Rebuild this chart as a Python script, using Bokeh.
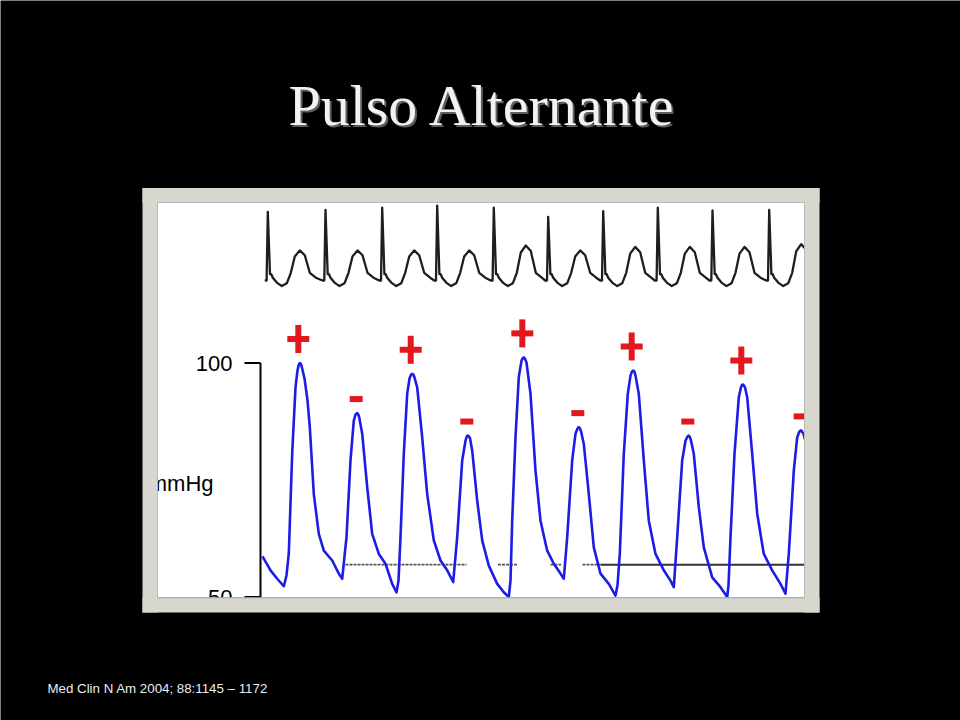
import re
from bokeh.plotting import figure
from bokeh.models import Range1d, Label
from bokeh.core.properties import value
from bokeh.embed import file_html
from bokeh.resources import INLINE

# ---------------- data ----------------
title_text = "Pulso Alternante"
source_text = "Med Clin N Am 2004; 88:1145 \u2013 1172"
y_label = "mmHg"
tick_values = [100, 50]
tick_labels = ["100", "50"]

# arterial pressure trace (time in s, pressure in mmHg)
pressure_t = [0.00, 0.08, 0.147, 0.213, 0.24, 0.263, 0.297, 0.33, 0.35, 0.362, 0.373, 0.384, 0.395, 0.42, 0.45, 0.473,
              0.513, 0.563, 0.613, 0.697, 0.763, 0.797,
              0.84, 0.88, 0.913, 0.93, 0.947, 0.96, 0.97, 0.997, 1.047, 1.097, 1.163, 1.23, 1.297, 1.34,
              1.36, 1.38, 1.413, 1.447, 1.47, 1.485, 1.497, 1.51, 1.52, 1.547, 1.597, 1.647, 1.713, 1.78, 1.847, 1.907,
              1.947, 1.997, 2.03, 2.043, 2.053, 2.065, 2.075, 2.097, 2.147, 2.197, 2.263, 2.347, 2.413, 2.463,
              2.48, 2.497, 2.53, 2.563, 2.59, 2.602, 2.613, 2.625, 2.64, 2.68, 2.73, 2.78, 2.847, 2.913, 2.98, 3.013,
              3.047, 3.097, 3.13, 3.15, 3.163, 3.175, 3.185, 3.213, 3.263, 3.313, 3.38, 3.463, 3.53,
              3.55, 3.573, 3.613, 3.653, 3.68, 3.695, 3.707, 3.72, 3.73, 3.763, 3.813, 3.863, 3.93, 4.013, 4.08, 4.113,
              4.147, 4.197, 4.23, 4.25, 4.263, 4.275, 4.285, 4.313, 4.363, 4.413, 4.497, 4.58, 4.647,
              4.66, 4.68, 4.72, 4.763, 4.785, 4.795, 4.803, 4.813, 4.825, 4.847, 4.897, 4.947, 5.013, 5.097, 5.18, 5.23,
              5.263, 5.313, 5.347, 5.37, 5.387, 5.41, 5.44]
pressure_mmhg = [58.7, 55.7, 53.9, 52.3, 54.6, 59.3, 80.7, 94.8, 98.4, 99.6, 100.0, 99.8, 99.0, 96.7, 92.0, 86.3,
                 72.0, 63.5, 59.9, 57.8, 55.0, 53.9,
                 62.8, 79.2, 87.7, 89.0, 89.3, 88.9, 88.1, 84.9, 73.5, 63.5, 59.2, 57.1, 52.8, 51.0,
                 53.5, 62.8, 80.6, 93.4, 96.7, 97.5, 97.7, 97.5, 96.9, 94.8, 84.1, 72.0, 62.1, 57.8, 55.7, 53.2,
                 62.8, 79.2, 83.4, 84.3, 84.5, 84.3, 83.9, 81.3, 70.6, 62.1, 56.7, 52.8, 51.0, 50.0,
                 53.5, 66.3, 84.1, 97.0, 100.5, 101.0, 101.2, 100.9, 100.1, 93.4, 77.0, 66.3, 59.9, 57.1, 55.0, 53.9,
                 62.8, 79.2, 84.9, 86.0, 86.3, 86.0, 85.4, 82.7, 72.0, 60.6, 55.0, 52.8, 50.3,
                 52.5, 59.2, 80.6, 93.4, 97.3, 98.2, 98.4, 98.1, 97.3, 93.4, 79.2, 66.3, 59.2, 55.7, 53.5, 52.1,
                 62.8, 79.2, 83.4, 84.3, 84.5, 84.1, 83.4, 80.6, 69.2, 60.6, 54.2, 52.1, 50.0,
                 52.5, 62.8, 80.6, 92.7, 94.8, 95.3, 95.4, 95.2, 94.8, 92.7, 80.6, 67.8, 59.2, 55.7, 52.8, 50.7,
                 59.2, 77.0, 84.1, 85.4, 85.6, 84.9, 82.4]

# systolic peaks and their alternans sign
peak_t = [0.373, 0.947, 1.497, 2.053, 2.613, 3.163, 3.707, 4.263, 4.803, 5.387]
peak_mmhg = [100.0, 89.3, 97.7, 84.5, 101.2, 86.3, 98.4, 84.5, 95.4, 85.6]
peak_sign = ["+", "-", "+", "-", "+", "-", "+", "-", "+", "-"]

# reference line at the foot of the pulses
baseline_mmhg = 56.9
dotted_start = [0.83, 2.355, 2.88, 3.20]
dotted_end = [2.04, 2.55, 2.985, 3.38]
solid_start = [3.38]
solid_end = [5.415]

# ECG: R-wave times (s), R amplitude (mV), T amplitude (mV)
ecg_r_t = [0.053, 0.63, 1.197, 1.747, 2.313, 2.857, 3.407, 3.953, 4.50, 5.067]
ecg_r_mv = [0.98, 1.01, 1.04, 1.07, 1.04, 0.91, 0.99, 1.04, 1.00, 1.01]
ecg_t_mv = [0.43, 0.43, 0.43, 0.43, 0.50, 0.43, 0.48, 0.48, 0.48, 0.52]
# beat morphology: offset from R (s) and level (mV)
ecg_shape_dt = [-0.03, -0.012, 0.0, 0.022, 0.035, 0.05, 0.09, 0.14, 0.19, 0.23, 0.27, 0.32, 0.37, 0.42, 0.48]
ecg_shape_kind = ["b", "b", "R", "s1", "s1", "s2", "s3", "s4", "s5", "t0", "t1", "T", "t2", "t3", "t4"]
ecg_shape_level = {"b": 0.0, "s1": 0.09, "s2": 0.04, "s3": -0.03, "s4": -0.08, "s5": -0.04,
                   "t0": 0.11, "t1": 0.8, "t2": 0.84, "t3": 0.11, "t4": 0.04}

ecg_x, ecg_y = [], []
for rt, ra, ta in zip(ecg_r_t, ecg_r_mv, ecg_t_mv):
    for dt, k in zip(ecg_shape_dt, ecg_shape_kind):
        ecg_x.append(rt + dt)
        if k == "R":
            ecg_y.append(ra)
        elif k == "T":
            ecg_y.append(ta)
        elif k in ("t1", "t2"):
            ecg_y.append(ta * ecg_shape_level[k])
        else:
            ecg_y.append(ecg_shape_level[k])

# ---------------- layout (pixels on the canvas) ----------------
W, H = 960, 720
X0_PX, PX_PER_S = 262.0, 100.0          # t = 0 s sits at x = 262 px
Y100_PX, PX_PER_MMHG = 362.5, 4.68      # 100 mmHg sits at y = 362.5 px
ECG0_PX, PX_PER_MV = 280.0, 70.0        # ECG baseline at y = 280 px


def sx(px):
    return (px - X0_PX) / PX_PER_S


def sy(py):
    return 100.0 - (py - Y100_PX) / PX_PER_MMHG


RED = "#e3171e"
BLUE = "#1c1ce6"
GREY = "#d7d7cf"
FONT = value("Liberation Sans")

p = figure(width=W, height=H, output_backend="svg", toolbar_location=None,
           x_axis_type=None, y_axis_type=None,
           x_range=Range1d(sx(0), sx(W)), y_range=Range1d(sy(H), sy(0)),
           min_border_left=0, min_border_right=0, min_border_top=0, min_border_bottom=0)
p.background_fill_color = "black"
p.border_fill_color = "black"
p.outline_line_color = None
p.extra_y_ranges = {"ecg": Range1d((ECG0_PX - H) / PX_PER_MV, ECG0_PX / PX_PER_MV)}

# white panel
inner = (157.5, 803.5, 202.5, 597.0)   # left, right, top, bottom (px)
outer = (142.0, 819.0, 187.5, 612.0)
p.quad(left=[sx(inner[0])], right=[sx(inner[1])], top=[sy(inner[2])], bottom=[sy(inner[3])],
       fill_color="white", line_color=None)

# ECG
p.line(ecg_x, ecg_y, y_range_name="ecg", line_color="#1e1e1e", line_width=2.3, line_join="round")

# reference line
p.segment(x0=dotted_start, y0=[baseline_mmhg] * len(dotted_start), x1=dotted_end,
          y1=[baseline_mmhg] * len(dotted_end), line_color="#555555", line_width=1.8, line_dash="3 1")
p.segment(x0=solid_start, y0=[baseline_mmhg], x1=solid_end, y1=[baseline_mmhg],
          line_color="#333333", line_width=2)

# pressure
p.line(pressure_t, pressure_mmhg, line_color=BLUE, line_width=2.6, line_join="round")

# hand-drawn axis for pressure
axis_t = sx(260)
p.line([axis_t, axis_t], [min(tick_values), max(tick_values)], line_color="black", line_width=2)
p.segment(x0=[sx(244)] * len(tick_values), y0=tick_values, x1=[axis_t] * len(tick_values),
          y1=tick_values, line_color="black", line_width=2)
p.text(x=[sx(232)] * len(tick_values), y=tick_values, text=tick_labels,
       text_align="right", text_baseline="middle", text_font_size="22px",
       text_font=FONT, text_color="black")
p.text(x=[sx(213)], y=[sy(483)], text=[y_label], text_align="right", text_baseline="middle",
       text_font_size="22px", text_font=FONT, text_color="black")

# alternans signs
plus_x = [t - 0.015 for t, s in zip(peak_t, peak_sign) if s == "+"]
plus_y = [v + 24 / PX_PER_MMHG for v, s in zip(peak_mmhg, peak_sign) if s == "+"]
minus_x = [t - 0.01 for t, s in zip(peak_t, peak_sign) if s == "-"]
minus_y = [v + 14 / PX_PER_MMHG for v, s in zip(peak_mmhg, peak_sign) if s == "-"]
p.rect(x=plus_x, y=plus_y, width=22, height=6, width_units="screen", height_units="screen",
       fill_color=RED, line_color=None)
p.rect(x=plus_x, y=plus_y, width=6, height=28, width_units="screen", height_units="screen",
       fill_color=RED, line_color=None)
p.rect(x=minus_x, y=minus_y, width=13, height=6, width_units="screen", height_units="screen",
       fill_color=RED, line_color=None)

# grey picture frame, drawn on top so it trims the traces
band_l = [outer[0], inner[1], outer[0], outer[0]]
band_r = [inner[0], outer[1], outer[1], outer[1]]
band_t = [outer[2], outer[2], outer[2], inner[3]]
band_b = [outer[3], outer[3], inner[2], outer[3]]
p.quad(left=[sx(v) for v in band_l], right=[sx(v) for v in band_r],
       top=[sy(v) for v in band_t], bottom=[sy(v) for v in band_b],
       fill_color=GREY, line_color=None)
p.quad(left=[sx(inner[0] - 0.5)], right=[sx(inner[1] + 0.5)], top=[sy(inner[2] - 0.5)],
       bottom=[sy(inner[3] + 0.5)], fill_color=None, line_color="#b9b9b1", line_width=1)

# slide title and source
p.add_layout(Label(x=484, y=H - 107, x_units="screen", y_units="screen", text=title_text,
                   text_align="center", text_baseline="alphabetic", text_font_size="58px",
                   text_font="Liberation Serif", text_color="#5e5e5e"))
p.add_layout(Label(x=482, y=H - 105, x_units="screen", y_units="screen", text=title_text,
                   text_align="center", text_baseline="alphabetic", text_font_size="58px",
                   text_font="Liberation Serif", text_color="#f2f2f2"))
p.add_layout(Label(x=47, y=H - 688, x_units="screen", y_units="screen", text=source_text,
                   text_align="left", text_baseline="alphabetic", text_font_size="13.3px",
                   text_font="Liberation Sans", text_color="#ececec"))

html = file_html(p, INLINE)
html = re.sub(r"<body([^>]*)>", r'<body\1 style="background:#000000;">', html, count=1)
open("out.html", "w").write(html)
